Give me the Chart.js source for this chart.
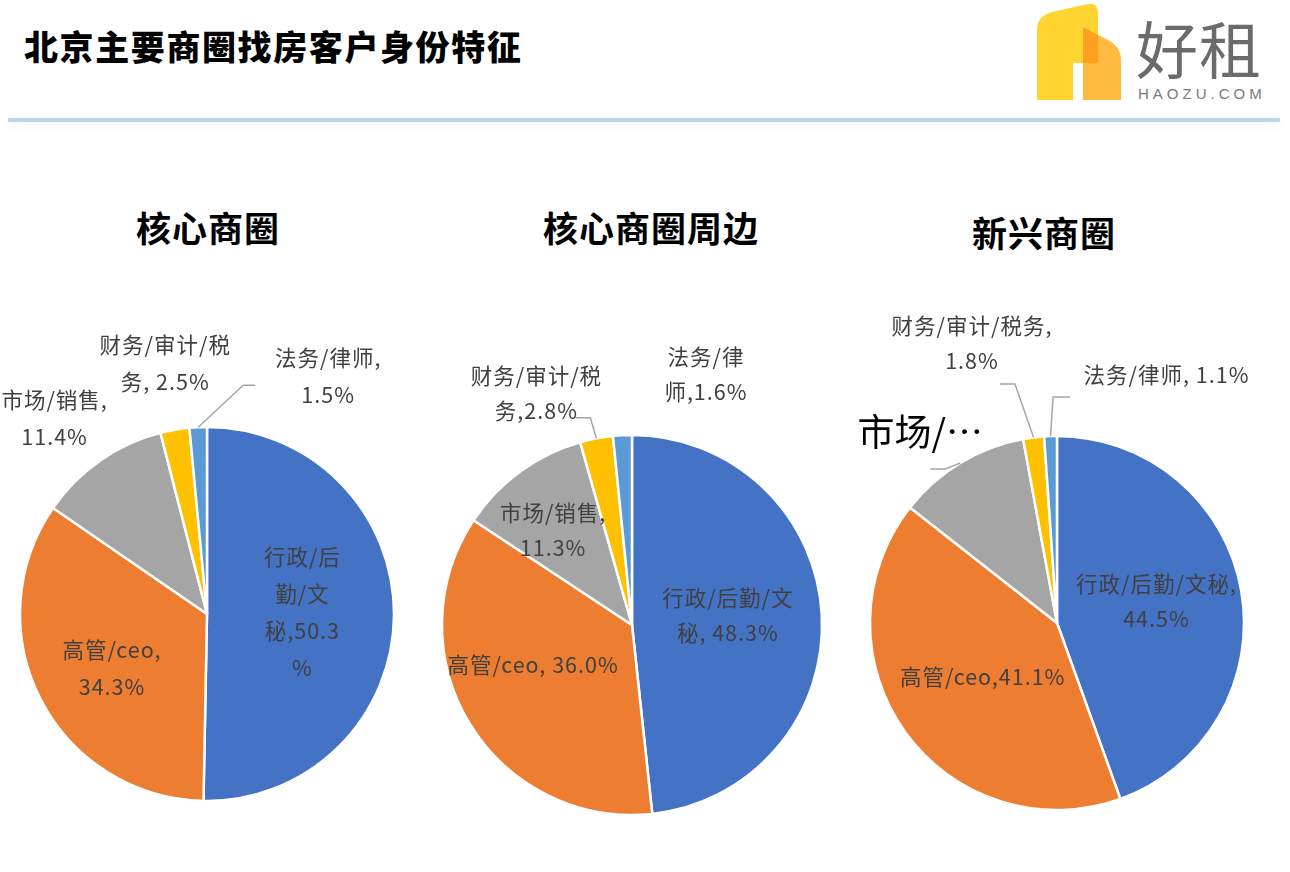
<!DOCTYPE html>
<html>
<head>
<meta charset="utf-8">
<script src="https://cdn.jsdelivr.net/npm/chart.js@4.4.1/dist/chart.umd.min.js"></script>
<style>
  html,body{margin:0;padding:0;background:#fff;}
  body{width:1290px;height:872px;position:relative;overflow:hidden;font-family:"Noto Sans CJK SC","Noto Sans",sans-serif;}
  .main-title{position:absolute;left:24px;top:22px;font-size:34px;font-weight:900;color:#000;letter-spacing:1.6px;white-space:nowrap;line-height:48px;}
  .sep{position:absolute;left:8px;top:118px;width:1272px;height:4px;background:#bfd4e7;box-shadow:0 3px 8px rgba(190,215,240,0.35);}
  .ptitle{position:absolute;font-size:35px;font-weight:700;color:#000;white-space:nowrap;transform:translate(-50%,-50%);line-height:44px;letter-spacing:1px;}
  .logo-txt{position:absolute;left:1136px;top:4px;font-size:62px;color:#6b6b6b;font-weight:400;line-height:86px;letter-spacing:1px;}
  .logo-sub{position:absolute;left:1138px;top:86px;font-family:"Liberation Sans",Arial,sans-serif;font-size:15px;color:#7a7a7a;letter-spacing:4px;line-height:16px;}
  canvas{position:absolute;left:0;top:0;pointer-events:none;}
</style>
</head>
<body>
<div class="main-title">北京主要商圈找房客户身份特征</div>
<svg style="position:absolute;left:0;top:0" width="1290" height="130">
  <path d="M1037,100 L1037,30 Q1037,16 1052,12 L1088,4 Q1098,2 1098,14 L1098,63 L1073,63 L1073,100 Z" fill="#FFD42E"/>
  <path d="M1083,27 L1108,40 Q1121,47 1121,60 L1121,100 L1083,100 Z" fill="#FFBA3F"/>
  <path d="M1083,27 L1098,35 L1098,63 L1083,63 Z" fill="#FF9E1F"/>
</svg>
<div class="logo-txt">好租</div>
<div class="logo-sub">HAOZU.COM</div>
<div class="sep"></div>
<div class="ptitle" id="t0" style="left:208px;top:227px"></div>
<div class="ptitle" id="t1" style="left:651px;top:227px"></div>
<div class="ptitle" id="t2" style="left:1044px;top:232px"></div>
<canvas id="c0" width="1290" height="872"></canvas>
<canvas id="c1" width="1290" height="872"></canvas>
<canvas id="c2" width="1290" height="872"></canvas>
<script>
// ---------- data ----------
const categories = ['行政/后勤/文秘', '高管/ceo', '市场/销售', '财务/审计/税务', '法务/律师'];
const chartTitles = ['核心商圈', '核心商圈周边', '新兴商圈'];
const coreValues = [50.3, 34.3, 11.4, 2.5, 1.5];
const nearbyValues = [48.3, 36.0, 11.3, 2.8, 1.6];
const emergingValues = [44.5, 41.1, 11.5, 1.8, 1.1];
const coreLabels = [['行政/后', '勤/文', '秘,50.3', '%'], ['高管/ceo,', '34.3%'], ['市场/销售,', '11.4%'], ['财务/审计/税', '务, 2.5%'], ['法务/律师,', '1.5%']];
const nearbyLabels = [['行政/后勤/文', '秘, 48.3%'], ['高管/ceo, 36.0%'], ['市场/销售,', '11.3%'], ['财务/审计/税', '务,2.8%'], ['法务/律', '师,1.6%']];
const emergingLabels = [['行政/后勤/文秘,', '44.5%'], ['高管/ceo,41.1%'], ['市场/…'], ['财务/审计/税务,', '1.8%'], ['法务/律师, 1.1%']];

// ---------- styling / layout ----------
const sliceColors = ['#4472C4', '#ED7D31', '#A5A5A5', '#FFC000', '#5B9BD5'];
const W = 1290, H = 872, BW = 2.5;
const pies = [
  { values: coreValues, labels: coreLabels, cx: 207, cy: 614, r: 187, lh: 37,
    place: [
      { rf: 0.51, dx: 0, dy: -3 },
      { rf: 0.58, dx: 1.5, dy: 5 },
      { rf: 1.33, dx: -10, dy: 8 },
      { rf: 1.36, dx: 2, dy: 0 },
      { rf: 1.0, dx: 130, dy: -51, leader: [[-85, 9], [-73, 9]] }
    ] },
  { values: nearbyValues, labels: nearbyLabels, cx: 632, cy: 625, r: 190, lh: 35,
    place: [
      { rf: 0.505, dx: 0, dy: -5 },
      { rf: 0.56, dx: -8, dy: -15 },
      { rf: 0.65, dx: -6, dy: 5 },
      { rf: 1.0, dx: -60, dy: -45, leader: [[54, 24.5], [39, 24.5]] },
      { rf: 1.0, dx: 83.5, dy: -61 }
    ] },
  { values: emergingValues, labels: emergingLabels, cx: 1057, cy: 623, r: 187, lh: 35,
    place: [
      { rf: 0.54, dx: 0, dy: -4 },
      { rf: 0.49, dx: 0, dy: 0 },
      { rf: 1.0, dx: -40, dy: -31, big: true, leader: [[25, 37], [10, 37]] },
      { rf: 1.0, dx: -61.6, dy: -94, leader: [[43, 40.5], [28, 40.5]] },
      { rf: 1.0, dx: 116, dy: -61, leader: [[-113.5, 22], [-96.5, 22]] }
    ] }
];

const labelPlugin = {
  id: 'sliceLabels',
  afterDatasetsDraw(chart, args, opts) {
    const cfg = opts.cfg;
    const ctx = chart.ctx;
    const meta = chart.getDatasetMeta(0);
    meta.data.forEach((arc, i) => {
      const p = arc.getProps(['x', 'y', 'startAngle', 'endAngle', 'outerRadius'], true);
      const mid = (p.startAngle + p.endAngle) / 2;
      const pl = cfg.place[i];
      const ex = p.x + Math.cos(mid) * p.outerRadius;
      const ey = p.y + Math.sin(mid) * p.outerRadius;
      const lx = p.x + Math.cos(mid) * p.outerRadius * pl.rf + pl.dx;
      const ly = p.y + Math.sin(mid) * p.outerRadius * pl.rf + pl.dy;
      ctx.save();
      if (pl.leader) {
        ctx.strokeStyle = '#A6A6A6';
        ctx.lineWidth = 1.5;
        ctx.beginPath();
        ctx.moveTo(ex, ey);
        pl.leader.forEach(pt => ctx.lineTo(lx + pt[0], ly + pt[1]));
        ctx.stroke();
      }
      const lines = cfg.labels[i];
      ctx.textAlign = 'center';
      ctx.textBaseline = 'middle';
      if (pl.big) {
        ctx.font = '37px "Noto Sans CJK SC", sans-serif';
        ctx.fillStyle = '#000';
        if ('letterSpacing' in ctx) ctx.letterSpacing = '0px';
      } else {
        ctx.font = '21.5px "Noto Sans CJK SC", sans-serif';
        ctx.fillStyle = '#404040';
        if ('letterSpacing' in ctx) ctx.letterSpacing = '1px';
      }
      const n = lines.length;
      lines.forEach((t, k) => {
        ctx.fillText(t, lx, ly + (k - (n - 1) / 2) * cfg.lh);
      });
      ctx.restore();
    });
  }
};

pies.forEach((cfg, idx) => {
  document.getElementById('t' + idx).textContent = chartTitles[idx];
  const pad = {
    left: cfg.cx - cfg.r - BW / 2,
    right: W - cfg.cx - cfg.r - BW / 2,
    top: cfg.cy - cfg.r - BW / 2,
    bottom: H - cfg.cy - cfg.r - BW / 2
  };
  new Chart(document.getElementById('c' + idx), {
    type: 'pie',
    data: {
      labels: categories,
      datasets: [{
        data: cfg.values,
        backgroundColor: sliceColors,
        borderColor: '#ffffff',
        borderWidth: BW
      }]
    },
    options: {
      responsive: false,
      animation: false,
      layout: { padding: pad },
      plugins: {
        legend: { display: false },
        tooltip: { enabled: false },
        title: { display: false },
        sliceLabels: { cfg: cfg }
      }
    },
    plugins: [labelPlugin]
  });
});
</script>
</body>
</html>
